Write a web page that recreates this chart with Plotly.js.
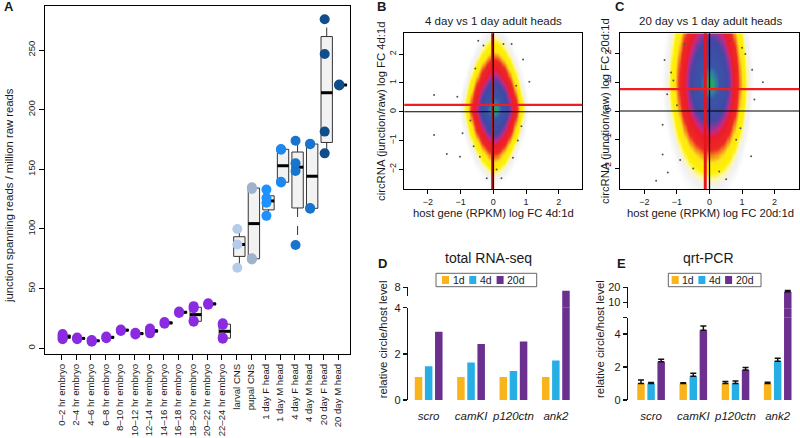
<!DOCTYPE html>
<html><head><meta charset="utf-8">
<script src="https://cdn.plot.ly/plotly-3.0.1.min.js"></script>
<style>html,body{margin:0;padding:0;background:#fff}#chart{width:800px;height:438px}</style>
</head><body><div id="chart"></div>
<script>
// ---------------- Panel A data ----------------
const stageLabels = ['0–2 hr embryo','2–4 hr embryo','4–6 hr embryo','6–8 hr embryo','8–10 hr embryo','10–12 hr embryo','12–14 hr embryo','14–16 hr embryo','16–18 hr embryo','18–20 hr embryo','20–22 hr embryo','22–24 hr embryo','larval CNS','pupal CNS','1 day F head','1 day M head','4 day F head','4 day M head','20 day F head','20 day M head'];
const stagePoints = [
  [7.5,9,10.5,12],[7.5,8.3,9],[5.5,6.3,7],[8.5,9.8],[14.5,15.8],[11.5,13],[12.5,14.5,16.5],[20.5,22],[29.5,30.8],[22.3,23,33.5,35.3],[36.5,37.8],[8,9,19.5,21],
  [67.5,87,100],[74.5,75.5,133.5,135],[111,122,126,133],[139,139.5,166.5,167],[86.6,148.6,155,174],[117,117.5,171,171.5],[163.4,181.6,246.7,275.8],[220.3,220.7,221.1]
];
const boxLow  = [7.5,7.5,5.5,8.5,14.5,11.5,12.5,20.5,29.5,22.3,36.5,8,67.5,74.5,111,139,86.6,117,163.4,220.3];
const boxQ1   = [8.3,7.9,5.9,8.5,14.5,11.5,13.5,20.5,29.5,22.6,36.5,8.5,77,75,116,139.2,117.6,117.3,172.5,220.5];
const boxMed  = [9.7,8.3,6.3,9.2,15.2,12.3,14.5,21.3,30.2,28.2,37.2,14.2,87,104.5,123.5,153,151.8,144.2,214.2,220.7];
const boxQ3   = [11.2,8.7,6.7,9.8,15.8,13,15.5,22,30.8,34.4,37.8,20.2,93.5,134.3,127.8,166.8,164.5,171.2,261.3,220.9];
const boxHigh = [12,9,7,9.8,15.8,13,16.5,22,30.8,35.3,37.8,21,100,135,133,167,174,171.5,275.8,221.1];
const stageColors = ['#8a2be2','#8a2be2','#8a2be2','#8a2be2','#8a2be2','#8a2be2','#8a2be2','#8a2be2','#8a2be2','#8a2be2','#8a2be2','#8a2be2',
  '#b5cbea','#a0b3cc','#1e90ff','#1e88f0','#1874cd','#1874cd','#104e8b','#104e8b'];
const yTicksA = [0,50,100,150,200,250];

// ---------------- Panels B / C ----------------
// density shape:
// [centerX, centerY, halfWidthLeft, halfWidthRight, halfHeightDown, halfHeightUp, roundness, verticalGamma]
const bDensityShape = [0.03, 0.1, 0.92, 0.9, 2.2, 2.4, 1.7, 0.8];
const cDensityShape = [0.02, 0.95, 1.25, 1.12, 3.25, 3.8, 2.2, 0.8];
const bDotsX = [-1.81,-1.81,-1.42,-1.10,-1.02,-0.94,0.91,1.10,0.86,-0.46,0.31,0.56,-0.41,-0.20,0.25,0.60,-0.55,0.70,-0.70,0.75,-0.30,0.10,-0.60];
const bDotsY = [0.58,-0.81,-1.47,0.52,-1.56,-0.75,1.81,1.04,-0.50,2.46,2.35,2.35,-1.56,-2.31,-2.31,-1.60,1.50,0.90,-0.30,-1.00,2.30,-2.00,-1.20];
const cDotsX = [-1.38,-1.18,-1.11,-1.30,-1.44,-1.44,-1.28,-1.64,1.10,1.31,1.64,1.38,1.28,0.82,0.51,-0.77,0.62,-0.90,0.95,-1.00,1.00,-0.50,0.30];
const cDotsY = [1.77,1.34,1.06,0.58,-0.48,-1.51,-2.14,-2.42,1.98,1.43,1.00,0.40,-1.57,-1.00,-2.37,2.32,2.43,-1.70,-0.60,0.20,2.20,-2.00,-2.10];
const bMeanFC = {host: -0.02, circ: 0.24};
const cMeanFC = {host: -0.13, circ: 0.76};
const fcTicks = [-2,-1,0,1,2];

// ---------------- Panels D / E ----------------
const genes = ['scro','camKI','p120ctn','ank2'];
const seriesNames = ['1d','4d','20d'];
const seriesColors = ['#f9b31b','#27aee4','#6b2f8e'];
const rnaseq1d  = [1.0,1.0,1.0,1.0];
const rnaseq4d  = [1.46,1.63,1.26,1.71];
const rnaseq20d = [2.96,2.43,2.53,7.0];
const qpcr1d  = [1.01,1.0,1.0,1.0];
const qpcr4d  = [1.0,1.45,1.0,2.36];
const qpcr20d = [2.32,4.24,1.82,17.0];
const qpcr1dErr  = [0.2,0.05,0.13,0.08];
const qpcr4dErr  = [0.07,0.17,0.15,0.17];
const qpcr20dErr = [0.15,0.26,0.16,0.9];

// ---------------- helpers ----------------
const W = 800, H = 438;
const px = x => x / W, py = y => 1 - y / H;
const FONT = 'Liberation Sans, Arial, Helvetica, sans-serif';
const INK = '#1a1a1a';

const traces = [];
const shapes = [];
const annotations = [];

// ---- Panel A ----
const boxShift = 0.2, ptShift = 0.06, boxW = 0.78;
const wx = [], wy = [];
stageLabels.forEach((_, i) => {
  const x = i + boxShift;
  if (boxHigh[i] > boxQ3[i] + 0.5) { wx.push(x, x, null); wy.push(boxQ3[i], boxHigh[i], null); }
  if (boxLow[i] < boxQ1[i] - 0.5) { wx.push(x, x, null); wy.push(boxQ1[i], boxLow[i], null); }
});
traces.push({type:'scatter', mode:'lines', x:wx, y:wy, line:{color:'#333', width:1, dash:'dash'}, hoverinfo:'skip', xaxis:'x', yaxis:'y'});
traces.push({type:'box', orientation:'v', x: stageLabels.map((_, i) => i + boxShift), q1: boxQ1, median: boxMed, q3: boxQ3,
  lowerfence: boxQ1, upperfence: boxQ3, width: boxW, whiskerwidth: 0, fillcolor:'#f2f2f2', line:{color:'#333', width:1},
  boxpoints:false, hoverinfo:'skip', xaxis:'x', yaxis:'y'});
const mx = [], my = [];
stageLabels.forEach((_, i) => { const x = i + boxShift; mx.push(x - boxW/2, x + boxW/2, null); my.push(boxMed[i], boxMed[i], null); });
traces.push({type:'scatter', mode:'lines', x:mx, y:my, line:{color:'#000', width:3}, hoverinfo:'skip', xaxis:'x', yaxis:'y'});
const ptx = [], pty = [], ptc = [];
stagePoints.forEach((pts, i) => pts.forEach(v => { ptx.push(i + ptShift); pty.push(v); ptc.push(stageColors[i]); }));
traces.push({type:'scatter', mode:'markers', x:ptx, y:pty, marker:{color:ptc, size:10, line:{width:0}}, hoverinfo:'skip', xaxis:'x', yaxis:'y'});

// ---- Panels B/C ----
function densityField(shape, xr, yr, n) {
  const [cx, cy, axL, axR, ayD, ayU, p, gy] = shape;
  const xs = [], ys = [], z = [];
  for (let i = 0; i < n; i++) { xs.push(xr[0] + (xr[1]-xr[0]) * i / (n-1)); ys.push(yr[0] + (yr[1]-yr[0]) * i / (n-1)); }
  for (const y of ys) {
    const row = [];
    for (const x of xs) {
      const dx = Math.abs((x - cx) / (x < cx ? axL : axR));
      const dy = Math.pow(Math.abs((y - cy) / (y < cy ? ayD : ayU)), gy);
      row.push(Math.min(1.2, Math.pow(Math.pow(dx, p) + Math.pow(dy, p), 1/p)));
    }
    z.push(row);
  }
  return {xs, ys, z};
}
const densityScale = [[0,'#1fb04a'],[0.067,'#26a569'],[0.133,'#2f7fa0'],[0.2,'#3a55a8'],[0.392,'#4049a4'],[0.442,'#7d3aa0'],[0.492,'#d0267a'],[0.533,'#ec1c2a'],[0.633,'#ee2a24'],[0.683,'#f7941d'],[0.725,'#fde617'],[0.8,'#fff200'],[0.85,'#fbf7b0'],[0.9,'#f1f1f4'],[1,'#ffffff']];
const bRangeX = [-2.72, 2.72], bRangeY = [-2.68, 2.72];
const cRangeX = [-2.75, 2.75], cRangeY = [-2.71, 2.70];
[[bDensityShape, bRangeX, bRangeY, 'x2', 'y2', bDotsX, bDotsY], [cDensityShape, cRangeX, cRangeY, 'x3', 'y3', cDotsX, cDotsY]].forEach(([shape, xr, yr, xa, ya, dx, dy]) => {
  const f = densityField(shape, xr, yr, 151);
  traces.push({type:'heatmap', x:f.xs, y:f.ys, z:f.z, zmin:0, zmax:1.2, colorscale:densityScale, zsmooth:'best', showscale:false, hoverinfo:'skip', xaxis:xa, yaxis:ya});
  traces.push({type:'scatter', mode:'markers', x:dx, y:dy, marker:{color:'#555', size:2}, hoverinfo:'skip', xaxis:xa, yaxis:ya});
});
[[bMeanFC, 'x2', 'y2'], [cMeanFC, 'x3', 'y3']].forEach(([m, xa, ya]) => {
  shapes.push({type:'line', xref:xa+' domain', x0:0, x1:1, yref:ya, y0:0, y1:0, line:{color:'#000', width:1.2}});
  shapes.push({type:'line', xref:xa, x0:m.host, x1:m.host, yref:ya+' domain', y0:0, y1:1, line:{color:'#e8141c', width:3}});
  shapes.push({type:'line', xref:xa, x0:0, x1:0, yref:ya+' domain', y0:0, y1:1, line:{color:'#000', width:1.3}});
  shapes.push({type:'line', xref:xa+' domain', x0:0, x1:1, yref:ya, y0:m.circ, y1:m.circ, line:{color:'#f01e23', width:2.2}});
});

// ---- Panels D/E ----
function addBars(series, errs, xa, yas) {
  yas.forEach(ya => series.forEach((vals, s) => {
    const t = {type:'bar', x:genes, y:vals, name:seriesNames[s], marker:{color:seriesColors[s]}, hoverinfo:'skip', showlegend:false, xaxis:xa, yaxis:ya};
    if (errs) t.error_y = {type:'data', symmetric:false, array:errs[s], arrayminus:errs[s].map(() => 0), color:'#111', thickness:1.5, width:3};
    traces.push(t);
  }));
}
addBars([rnaseq1d, rnaseq4d, rnaseq20d], null, 'x4', ['y4','y5','y6']);
addBars([qpcr1d, qpcr4d, qpcr20d], [qpcr1dErr, qpcr4dErr, qpcr20dErr], 'x5', ['y7','y8','y9']);

// custom legends
[[436, 536.7, 442, 27.3], [668.3, 761, 671.7, 26.7]].forEach(([l, r, sq0, step]) => {
  shapes.push({type:'rect', xref:'paper', yref:'paper', x0:px(l), x1:px(r), y0:py(286.7), y1:py(273.3), line:{color:'#666', width:1}, fillcolor:'rgba(0,0,0,0)'});
  seriesNames.forEach((nm, s) => {
    const x0 = sq0 + s * step;
    shapes.push({type:'rect', xref:'paper', yref:'paper', x0:px(x0), x1:px(x0+7), y0:py(284), y1:py(276), line:{width:0}, fillcolor:seriesColors[s]});
    annotations.push({xref:'paper', yref:'paper', x:px(x0+8.5), y:py(280.2), text:nm, showarrow:false, xanchor:'left', yanchor:'middle', font:{family:FONT, size:10.5, color:INK}});
  });
});

// ---- axes ----
const frameAxis = {showline:true, mirror:true, linecolor:'#000', linewidth:1, ticks:'outside', ticklen:4, tickcolor:'#000', showgrid:false, zeroline:false, tickfont:{family:FONT, size:9, color:INK}};
const barY = {showline:true, linecolor:'#111', linewidth:1.6, ticks:'outside', ticklen:4, tickwidth:1.5, tickcolor:'#111', showgrid:false, zeroline:false, tickfont:{family:FONT, size:11, color:INK}};
const barX = {type:'category', showline:false, ticks:'', showgrid:false, zeroline:false, ticklabelstandoff:7, tickfont:{family:FONT, size:11.5, color:INK, style:'italic'}};
const hiddenY = {visible:false, showgrid:false, zeroline:false};

const layout = {
  width:W, height:H, margin:{l:0, r:0, t:0, b:0}, paper_bgcolor:'#fff', plot_bgcolor:'rgba(0,0,0,0)',
  showlegend:false, hovermode:false, barmode:'group', bargap:0.283, bargroupgap:0.26,
  font:{family:FONT, color:INK},
  xaxis: Object.assign({}, frameAxis, {domain:[px(45), px(350)], range:[-1.15, 19.8], tickvals:stageLabels.map((_, i) => i), ticktext:stageLabels, tickangle:-90, ticklen:5, tickfont:{family:FONT, size:9.6, color:INK}, anchor:'y'}),
  yaxis: Object.assign({}, frameAxis, {domain:[py(354), py(6)], range:[-4.8, 286.9], tickvals:yTicksA, tickangle:-90, ticklen:5, tickfont:{family:FONT, size:9.6, color:INK}, anchor:'x'}),
  xaxis2: Object.assign({}, frameAxis, {domain:[px(404.3), px(582.3)], range:bRangeX, tickvals:fcTicks, anchor:'y2'}),
  yaxis2: Object.assign({}, frameAxis, {domain:[py(189), py(33.3)], range:bRangeY, tickvals:fcTicks, tickangle:-90, anchor:'x2'}),
  xaxis3: Object.assign({}, frameAxis, {domain:[px(620), px(799)], range:cRangeX, tickvals:fcTicks, anchor:'y3'}),
  yaxis3: Object.assign({}, frameAxis, {domain:[py(189), py(33.3)], range:cRangeY, tickvals:fcTicks, tickangle:-90, anchor:'x3'}),
  xaxis4: Object.assign({}, barX, {domain:[px(408.3), px(576.2)], range:[-0.48, 3.48], anchor:'y4'}),
  yaxis4: Object.assign({}, barY, {domain:[py(400), py(307.7)], range:[0, 4], tickvals:[0,2,4], anchor:'x4'}),
  yaxis5: Object.assign({}, hiddenY, {domain:[py(307.7), py(296)], range:[4, 5.44], anchor:'x4'}),
  yaxis6: Object.assign({}, barY, {domain:[py(296), py(287.3)], range:[5.44, 8], tickvals:[8], anchor:'x4'}),
  xaxis5: Object.assign({}, barX, {domain:[px(628.3), px(797.1)], range:[-0.54, 3.46], anchor:'y7'}),
  yaxis7: Object.assign({}, barY, {domain:[py(400), py(317.7)], range:[0, 5], tickvals:[0,2,4,5], ticktext:['0','2','4',''], anchor:'x5'}),
  yaxis8: Object.assign({}, hiddenY, {domain:[py(317.7), py(308.3)], range:[5, 6], anchor:'x5'}),
  yaxis9: Object.assign({}, barY, {domain:[py(308.3), py(287.3)], range:[6, 20], tickvals:[10,20], anchor:'x5'}),
  shapes: shapes,
  annotations: annotations
};

function label(text, x, y, size, opts) {
  annotations.push(Object.assign({xref:'paper', yref:'paper', x:px(x), y:py(y), text:text, showarrow:false, xanchor:'center', yanchor:'middle', font:{family:FONT, size:size, color:INK}}, opts || {}));
}
label('<b>A</b>', 9, 6.5, 13);
label('<b>B</b>', 381.7, 6.7, 13);
label('<b>C</b>', 620, 6.7, 13);
label('<b>D</b>', 382.5, 263.3, 13);
label('<b>E</b>', 621, 263.3, 13);
label('junction spanning reads / million raw reads', 9, 196, 11.3, {textangle:-90});
label('4 day vs 1 day adult heads', 493.3, 21, 11.5);
label('20 day vs 1 day adult heads', 710, 21, 11.5);
label('host gene (RPKM) log FC 4d:1d', 493.3, 213.3, 11.3);
label('host gene (RPKM) log FC 20d:1d', 710, 213.3, 11.3);
label('circRNA (junction/raw) log FC 4d:1d', 381, 111, 11.3, {textangle:-90});
label('circRNA (junction/raw) log FC 20d:1d', 605, 111, 11.3, {textangle:-90});
label('total RNA-seq', 489, 258, 14);
label('qrt-PCR', 708, 258, 14);
label('relative circle/host level', 383.3, 339, 11.4, {textangle:-90});
label('relative circle/host level', 600, 339, 11.4, {textangle:-90});

Plotly.newPlot('chart', traces, layout, {staticPlot:true, displayModeBar:false});
</script>
</body></html>
